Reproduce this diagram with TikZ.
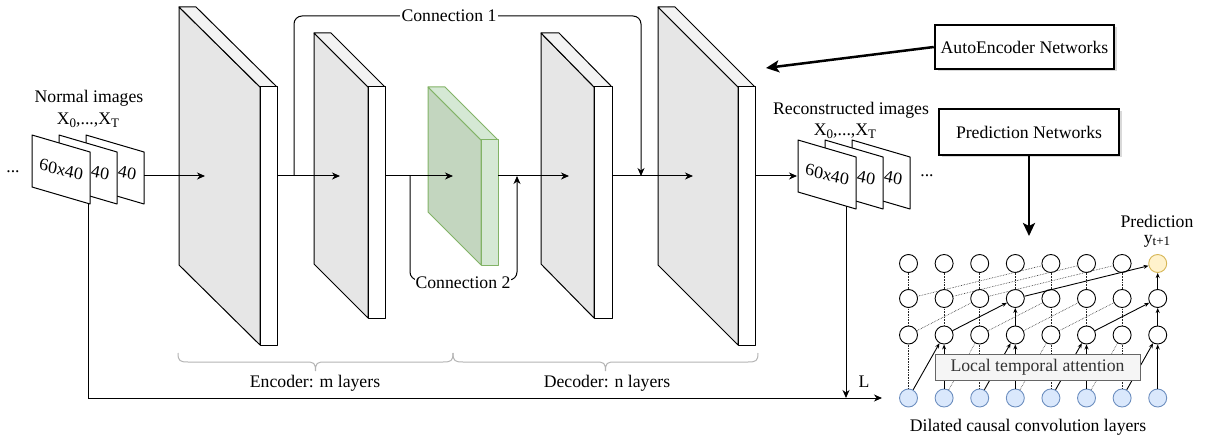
\documentclass[tikz,border=0pt]{standalone}
\usepackage{fontspec}
\setmainfont{Liberation Serif}
\usetikzlibrary{arrows.meta,shadows}
\definecolor{pface}{HTML}{E6E6E6}
\definecolor{ptop}{HTML}{F3F3F3}
\definecolor{gface}{HTML}{C3D6BF}
\definecolor{glight}{HTML}{D5E8D4}
\definecolor{gstroke}{HTML}{82B366}
\definecolor{bfill}{HTML}{DAE8FC}
\definecolor{bstroke}{HTML}{6C8EBF}
\definecolor{yfill}{HTML}{FFF2CC}
\definecolor{ystroke}{HTML}{D6B656}
\definecolor{afill}{HTML}{F5F5F5}
\definecolor{astroke}{HTML}{666666}
\definecolor{atext}{HTML}{333333}
\definecolor{bracecol}{HTML}{B3B3B3}
\newcommand\mysub[1]{\raisebox{-0.35ex}{\fontsize{13}{14}\selectfont #1}}
\newcommand\layerpanel[9]{%
  \path[#7] (#1,#2) -- (#1+#3,#2+#4) -- (#1+#3,#6) -- (#1,#6-#4) -- cycle;
  \path[#8] (#1,#2) -- (#1+#5,#2) -- (#1+#3+#5,#2+#4) -- (#1+#3,#2+#4) -- cycle;
  \path[#9] (#1+#3,#2+#4) rectangle (#1+#3+#5,#6);}
\newcommand\imgcard[1]{%
  \draw[line width=1pt,fill=white,line join=round] (#1) -- ++(58,17) -- ++(0,52) -- ++(-58,-17) -- cycle;}
\begin{document}
\begin{tikzpicture}[x=1pt,y=-1pt,
  every node/.style={font=\fontsize{17.7}{21}\selectfont},
  lbl/.style={inner sep=0pt},
  cardtxt/.style={inner sep=0pt,font=\fontsize{17.7}{21}\selectfont\itshape,yslant=-0.25},
  flow/.style={line width=1pt,-{Stealth[length=8pt,width=7pt,inset=2.5pt]}},
  thickarrow/.style={line width=2.5pt,-{Stealth[length=13pt,width=12pt,inset=3pt]}},
  gpface/.style={fill=pface,draw=black,line width=1pt,line join=round},
  gptop/.style={fill=ptop,draw=black,line width=1pt,line join=round},
  gpside/.style={fill=white,draw=black,line width=1pt,line join=round},
  grface/.style={fill=gface,draw=gstroke,line width=1pt,line join=round},
  grlight/.style={fill=glight,draw=gstroke,line width=1pt,line join=round},
  netbox/.style={draw,line width=2.5pt,fill=white,inner sep=0pt,drop shadow={opacity=0.3,shadow xshift=2.5pt,shadow yshift=-2.5pt}},
  nd/.style={circle,draw=black,fill=white,line width=0.9pt,minimum size=18pt,inner sep=0pt},
  dotl/.style={densely dotted,line width=0.6pt,draw=black!85},
  sarr/.style={line width=0.9pt,-{Stealth[length=5pt,width=4pt]}},
  bracestyle/.style={draw=bracecol,line width=1pt}
]
\useasboundingbox (0,0) rectangle (1205,441);

% ---------- layer panels ----------
\layerpanel{179}{7}{81}{80}{17}{345}{gpface}{gptop}{gpside}
\layerpanel{314}{33}{54}{54}{17}{318}{gpface}{gptop}{gpside}
\layerpanel{428}{87}{53}{53}{17}{265}{grface}{grlight}{grlight}
\layerpanel{541}{33}{53}{54}{18}{318}{gpface}{gptop}{gpside}
\layerpanel{658}{7}{80}{80}{17}{345}{gpface}{gptop}{gpside}

% ---------- input images ----------
\node[lbl] (dotsin) at (13,172) {...};
\coordinate (in3c) at (86,135);
\coordinate (in2c) at (59,135);
\coordinate (in1c) at (32,135);
\imgcard{in3c}
\node[cardtxt] (in3) at (127,173) {40};
\imgcard{in2c}
\node[cardtxt] (in2) at (100,173) {40};
\imgcard{in1c}
\node[cardtxt] (in1) at (61,169.5) {60x40};
\node[lbl] (normal) at (89,98) {Normal images};
\node[lbl] (xin) at (88,120) {X\mysub{0},...,X\mysub{T}};

% ---------- reconstructed images ----------
\coordinate (out3c) at (852,140);
\coordinate (out2c) at (825,140);
\coordinate (out1c) at (798,140);
\imgcard{out3c}
\node[cardtxt] (out3) at (893,178) {40};
\imgcard{out2c}
\node[cardtxt] (out2) at (866,178) {40};
\imgcard{out1c}
\node[cardtxt] (out1) at (827,174.5) {60x40};
\node[lbl] (dotsout) at (927,176) {...};
\node[lbl] (recon) at (851,110) {Reconstructed images};
\node[lbl] (xout) at (845,131) {X\mysub{0},...,X\mysub{T}};

% ---------- coordinates on main flow ----------
\coordinate (inR) at (144,176);
\coordinate (p1in) at (205,176);
\coordinate (p1out) at (277,176);
\coordinate (p2in) at (340,176);
\coordinate (c1s) at (294,176);
\coordinate (c1top) at (449,16);
\coordinate (c1e) at (641,176);
\coordinate (p2out) at (385,176);
\coordinate (gin) at (453,176);
\coordinate (c2s) at (410,176);
\coordinate (c2bot) at (463,280);
\coordinate (c2e) at (517,176);
\coordinate (gout) at (498,176);
\coordinate (p4in) at (569,176);
\coordinate (p4out) at (612,176);
\coordinate (p5in) at (693,176);
\coordinate (p5out) at (755,176);
\coordinate (outL) at (797,176);

\draw[flow] (inR) -- (p1in);
\draw[flow] (p1out) -- (p2in);
\draw[flow] (p2out) -- (gin);
\draw[flow] (gout) -- (p4in);
\draw[flow] (p4out) -- (p5in);
\draw[flow] (p5out) -- (outL);

\draw[flow,rounded corners=8pt] (c1s) |- (c1top) -| (c1e);
\node[fill=white,inner sep=1.5pt] (c1lbl) at (c1top) {Connection 1};
\draw[flow,rounded corners=8pt] (c2s) |- (c2bot) -| (c2e);
\node[fill=white,inner sep=1pt] (c2lbl) at (463,283) {Connection 2};

% ---------- braces ----------
\path[bracestyle] (178,353) .. controls (178,361) and (180,362) .. (188,362) -- (306,362)
  .. controls (314,362) and (315.5,363) .. (315.5,371) .. controls (315.5,363) and (317,362) .. (325,362)
  -- (443,362) .. controls (451,362) and (453,361) .. (453,353);
\path[bracestyle] (453,353) .. controls (453,361) and (455,362) .. (463,362) -- (596,362)
  .. controls (604,362) and (605.5,363) .. (605.5,371) .. controls (605.5,363) and (607,362) .. (615,362)
  -- (748,362) .. controls (756,362) and (758,361) .. (758,353);
\node[lbl] (enc) at (315,383) {Encoder: m layers};
\node[lbl] (dec) at (607,383) {Decoder: n layers};

% ---------- loss lines ----------
\coordinate (inB) at (88,204);
\coordinate (bend) at (882,398);
\draw[flow] (inB) |- (bend);
\coordinate (recB) at (846,206);
\coordinate (lmeet) at (846,398);
\draw[flow] (recB) -- (lmeet);
\node[lbl] (L) at (864,382) {L};

% ---------- network boxes ----------
\node[netbox,minimum width=179pt,minimum height=44pt] (ae) at (1024.5,47) {AutoEncoder Networks};
\coordinate (aetip) at (766,68);
\draw[thickarrow] (ae.west) -- (aetip);
\node[netbox,minimum width=180pt,minimum height=46pt] (pn) at (1029,132) {Prediction Networks};
\coordinate (pntip) at (1029,236);
\draw[thickarrow] (pn.south) -- (pntip);

% ---------- TCN ----------
\foreach \i in {0,...,7} {
  \pgfmathsetmacro\xx{908.5+35.6*\i}
  \node[nd] (s\i) at (\xx,298.5) {};
  \node[nd] (h\i) at (\xx,335) {};
  \node[nd,fill=bfill,draw=bstroke] (b\i) at (\xx,398) {};
}
\foreach \i in {0,...,6} {
  \pgfmathsetmacro\xx{908.5+35.6*\i}
  \node[nd] (t\i) at (\xx,263.5) {};
}
\node[nd,fill=yfill,draw=ystroke] (t7) at ({908.5+35.6*7},263.5) {};

\foreach \i in {0,...,6} \draw[dotl] (s\i) -- (t\i);
\draw[sarr] (s7) -- (t7);
\foreach \i in {0,1,2,4,5,6} \draw[dotl] (h\i) -- (s\i);
\draw[sarr] (h3) -- (s3);
\draw[sarr] (h7) -- (s7);
\foreach \i in {0,2,4,6} \draw[dotl] (b\i) -- (h\i);
\foreach \i in {1,3,5,7} \draw[sarr] (b\i) -- (h\i);
\foreach \p/\q in {0/1,2/3,4/5,6/7} \draw[sarr] (b\p) -- (h\q);
\foreach \p/\q in {1/2,3/4,5/6} \draw[dotl] (b\p) -- (h\q);
\foreach \p/\q in {1/3,5/7} \draw[sarr] (h\p) -- (s\q);
\foreach \p/\q in {0/2,2/4,3/5,4/6} \draw[dotl] (h\p) -- (s\q);
\draw[sarr] (s3) -- (t7);
\foreach \p/\q in {0/4,1/5,2/6} \draw[dotl] (s\p) -- (t\q);

\node[draw=astroke,fill=afill,text=atext,line width=0.9pt,minimum width=205pt,minimum height=26pt,inner sep=0pt] (att) at (1037.5,367) {Local temporal attention};

\node[lbl] (predl) at (1157,221) {Prediction};
\node[lbl] (predy) at (1157,241) {y\mysub{t+1}};
\node[lbl] (dil) at (1028,427) {Dilated causal convolution layers};
\end{tikzpicture}
\end{document}
